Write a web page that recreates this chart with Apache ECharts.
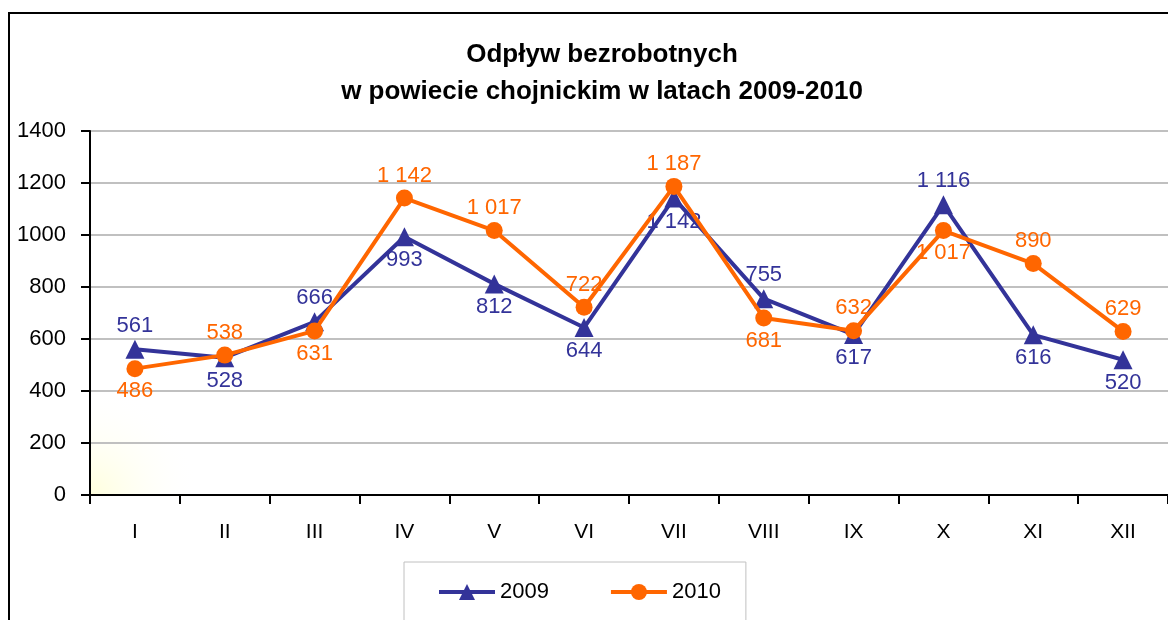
<!DOCTYPE html>
<html>
<head>
<meta charset="utf-8">
<script src="https://cdn.jsdelivr.net/npm/echarts@6/dist/echarts.min.js"></script>
<style>
  html, body { margin: 0; padding: 0; background: #fff; }
  #chart { width: 1168px; height: 620px; }
</style>
</head>
<body>
<div id="chart"></div>
<script>
const months = ['I', 'II', 'III', 'IV', 'V', 'VI', 'VII', 'VIII', 'IX', 'X', 'XI', 'XII'];
const values2009 = [561, 528, 666, 993, 812, 644, 1142, 755, 617, 1116, 616, 520];
const values2010 = [486, 538, 631, 1142, 1017, 722, 1187, 681, 632, 1017, 890, 629];
// where the value label sits for each point
const pos2009 = ['top', 'bottom', 'top', 'bottom', 'bottom', 'bottom', 'bottom', 'top', 'bottom', 'top', 'bottom', 'bottom'];
const pos2010 = ['bottom', 'top', 'bottom', 'top', 'top', 'top', 'top', 'bottom', 'top', 'bottom', 'top', 'top'];

const font = 'Liberation Sans, Arial, sans-serif';

function fmt(v) {
    return String(v).replace(/\B(?=(\d{3})+(?!\d))/g, ' ');
}

function withLabels(values, positions) {
    return values.map((v, i) => ({
        value: v,
        label: { position: positions[i] }
    }));
}

const myChart = echarts.init(document.getElementById('chart'));
const option = {
    backgroundColor: '#fff',
    animation: false,
    title: {
        text: 'Odpływ bezrobotnych\nw powiecie chojnickim w latach 2009-2010',
        left: 597,
        top: 31,
        textAlign: 'center',
        textStyle: {
            fontFamily: font,
            fontSize: 26,
            fontWeight: 'bold',
            color: '#000',
            lineHeight: 37
        }
    },
    graphic: [{
        type: 'rect',
        z: 100,
        shape: { x: 9, y: 13, width: 1300, height: 800 },
        style: { fill: 'none', stroke: '#000', lineWidth: 2 }
    }],
    legend: {
        left: 404,
        top: 562,
        padding: [19, 25, 30, 33],
        itemGap: 60,
        itemWidth: 56,
        itemHeight: 20,
        borderColor: '#c0c0c0',
        borderWidth: 1,
        lineStyle: { width: 4 },
        textStyle: { fontFamily: font, fontSize: 22, color: '#000' },
        data: ['2009', '2010']
    },
    grid: {
        left: 90,
        right: -21,
        top: 131,
        bottom: 125,
        show: true,
        borderWidth: 0,
        backgroundColor: new echarts.graphic.RadialGradient(0, 1, 0.3, [
            { offset: 0, color: '#ffffdc' },
            { offset: 1, color: 'rgba(255,255,255,0)' }
        ])
    },
    xAxis: {
        type: 'category',
        data: months,
        boundaryGap: true,
        axisLine: { lineStyle: { color: '#000', width: 2 } },
        axisTick: { show: true, length: 9, lineStyle: { color: '#000', width: 2 } },
        axisLabel: { margin: 27, fontFamily: font, fontSize: 21, color: '#000' }
    },
    yAxis: {
        type: 'value',
        min: 0,
        max: 1400,
        interval: 200,
        axisLine: { show: true, lineStyle: { color: '#000', width: 2 } },
        axisTick: { show: true, length: 9, lineStyle: { color: '#000', width: 2 } },
        axisLabel: {
            margin: 24,
            fontFamily: font,
            fontSize: 22,
            color: '#000',
            formatter: v => String(v)
        },
        splitLine: { lineStyle: { color: '#c0c0c0', width: 2 } }
    },
    series: [{
        name: '2009',
        type: 'line',
        data: withLabels(values2009, pos2009),
        symbol: 'triangle',
        symbolSize: 19,
        itemStyle: { color: '#333399' },
        lineStyle: { color: '#333399', width: 4 },
        label: {
            show: true,
            distance: 3,
            fontFamily: font,
            fontSize: 22,
            color: '#333399',
            formatter: p => fmt(p.value)
        },
        z: 2
    }, {
        name: '2010',
        type: 'line',
        data: withLabels(values2010, pos2010),
        symbol: 'circle',
        symbolSize: 17,
        itemStyle: { color: '#ff6600' },
        lineStyle: { color: '#ff6600', width: 4 },
        label: {
            show: true,
            distance: 3,
            fontFamily: font,
            fontSize: 22,
            color: '#ff6600',
            formatter: p => fmt(p.value)
        },
        z: 3
    }]
};
myChart.setOption(option);
</script>
</body>
</html>
